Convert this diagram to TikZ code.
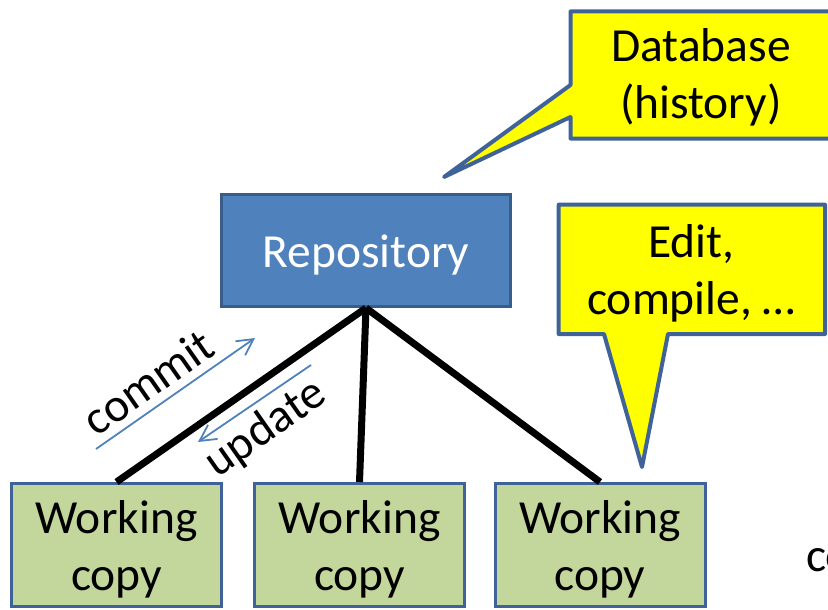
\documentclass[tikz,border=0pt]{standalone}
\usepackage{fontspec}
\setmainfont{Carlito}
\usetikzlibrary{arrows.meta}
\definecolor{repofill}{HTML}{4F81BD}
\definecolor{repoline}{HTML}{385D8A}
\definecolor{wcfill}{HTML}{C3D69B}
\definecolor{bluedge}{HTML}{3F6398}
\definecolor{calloutfill}{HTML}{FFFF00}
\newcommand{\twolines}[2]{\begin{tabular}[t]{@{}c@{}}#1\\#2\end{tabular}}
\begin{document}
\begin{tikzpicture}[x=1pt,y=-1pt,
  bigfont/.style={font={\fontsize{47.5}{57}\selectfont}},
  repobox/.style={draw=repoline, line width=3pt, fill=repofill, text=white, bigfont,
    minimum width=289pt, minimum height=112pt, inner sep=0pt, text height=40pt, text depth=7pt},
  wcbox/.style={draw=bluedge, line width=3pt, fill=wcfill, bigfont,
    minimum width=210pt, minimum height=123pt, inner sep=0pt, text height=30pt, text depth=54pt},
  callout/.style={draw=bluedge, line width=4pt, fill=calloutfill, line join=round},
  calltext/.style={bigfont, anchor=base, inner sep=0pt},
  link/.style={line width=7pt, draw=black},
  flow/.style={draw=repofill, line width=1.8pt, -{Straight Barb[length=16pt,width=17pt]}},
  flowtext/.style={bigfont, rotate=35, inner sep=0pt}
]
\useasboundingbox (0,0) rectangle (828,610);
\clip (0,0) rectangle (828,610);

% callouts
\path[callout] (570.5,11.5) -- (834,11.5) -- (834,138.5) -- (570.5,138.5) -- (570.5,117)
  -- (444,177) -- (570.5,85) -- cycle;
\node[calltext] (dbtext) at (701,62) {\twolines{Database}{(history)}};

\path[callout] (558.7,204.7) -- (825,204.7) -- (825,334) -- (668,334) -- (642,467)
  -- (604,334) -- (558.7,334) -- cycle;
\node[calltext] (edittext) at (691.5,257) {\twolines{Edit,}{compile, …}};

% boxes
\node[repobox] (repo) at (366,250.5) {Repository};
\node[wcbox] (wc1) at (116.5,545) {\twolines{Working}{copy}};
\node[wcbox] (wc2) at (359.5,545) {\twolines{Working}{copy}};
\node[wcbox] (wc3) at (600,545) {\twolines{Working}{copy}};

% links
\draw[link] (repo.south) -- (wc1.north);
\draw[link] (repo.south) -- (wc2.north);
\draw[link] (repo.south) -- (wc3.north);

% commit / update
\coordinate (cfrom) at (96,449);
\coordinate (cto) at (255,338);
\coordinate (ufrom) at (311,365);
\coordinate (uto) at (198,442);
\draw[flow] (cfrom) -- (cto);
\draw[flow] (ufrom) -- (uto);
\node[flowtext] (committext) at (148,382) {commit};
\node[flowtext] (updatetext) at (266,429) {update};

% cut-off text at the right
\node[bigfont, anchor=base west, inner sep=0pt] (cotext) at (806,571) {co};
\end{tikzpicture}
\end{document}
